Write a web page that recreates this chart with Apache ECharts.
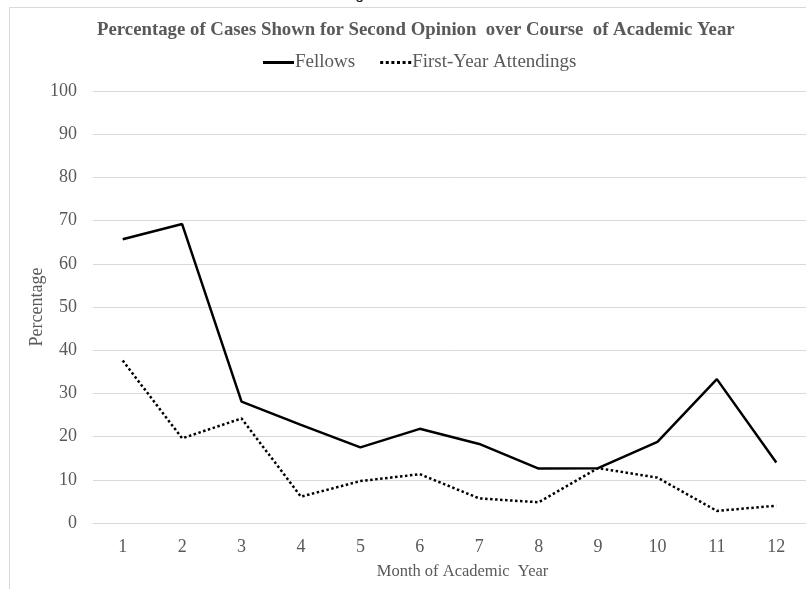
<!DOCTYPE html>
<html>
<head>
<meta charset="utf-8">
<script src="https://cdn.jsdelivr.net/npm/echarts@6/dist/echarts.min.js"></script>
<style>
html,body{margin:0;padding:0;background:#fff;}
#chart{width:806px;height:589px;}
</style>
</head>
<body>
<div id="chart"></div>
<script>
const months = ['1','2','3','4','5','6','7','8','9','10','11','12'];
const fellows = [65.7, 69.2, 28.1, 22.7, 17.5, 21.8, 18.3, 12.6, 12.7, 18.8, 33.3, 14.0];
const firstYearAttendings = [37.6, 19.6, 24.2, 6.1, 9.7, 11.3, 5.7, 4.8, 12.7, 10.5, 2.8, 4.0];
const titleText = 'Percentage of Cases Shown for Second Opinion  over Course  of Academic Year';
const seriesNames = ['Fellows', 'First-Year Attendings'];
const xAxisTitle = 'Month of Academic  Year';
const yAxisTitle = 'Percentage';

const serif = '"Liberation Serif", "Times New Roman", serif';
const grey = '#595959';
const gridGrey = '#d9d9d9';

const dottedIcon = 'path://M0,0h3v3h-3zM5.6,0h3v3h-3zM11.2,0h3v3h-3zM16.8,0h3v3h-3zM22.4,0h3v3h-3zM28,0h3v3h-3z';
const solidIcon = 'path://M0,0h31v3h-31z';

const chart = echarts.init(document.getElementById('chart'), null, {renderer: 'canvas'});
chart.setOption({
  backgroundColor: '#ffffff',
  animation: false,
  title: {
    text: titleText,
    left: 92,
    top: 16,
    textStyle: {fontFamily: serif, fontWeight: 'bold', fontSize: 18.8, color: grey}
  },
  legend: {
    top: 48,
    left: 258,
    itemWidth: 31,
    itemHeight: 3,
    itemGap: 25,
    textStyle: {fontFamily: serif, fontSize: 19, color: grey, padding: [0,0,0,-4]},
    data: [
      {name: seriesNames[0], icon: solidIcon, itemStyle: {color: '#000'}},
      {name: seriesNames[1], icon: dottedIcon, itemStyle: {color: '#000'}}
    ]
  },
  graphic: [
    {type: 'rect', silent: true, z: -10,
     shape: {x: 9.5, y: 7.5, width: 900, height: 700},
     style: {fill: null, stroke: gridGrey, lineWidth: 1}},
    {type: 'text', silent: true, left: 342, top: -13,
     style: {text: 'Figure 1', fontFamily: '"Liberation Sans", Arial, sans-serif', fontSize: 16, fill: '#222'}}
  ],
  grid: {left: 93, right: -3, top: 91, bottom: 66, containLabel: false},
  xAxis: {
    type: 'category',
    data: months,
    boundaryGap: true,
    axisTick: {show: false},
    axisLine: {lineStyle: {color: gridGrey, width: 1}},
    axisLabel: {fontFamily: serif, fontSize: 18, color: grey, margin: 15},
    name: xAxisTitle,
    nameLocation: 'middle',
    nameGap: 40,
    nameMoveOverlap: false,
    nameTextStyle: {fontFamily: serif, fontSize: 16.5, color: grey, padding: [0,0,0,26]}
  },
  yAxis: {
    type: 'value',
    min: 0, max: 100, interval: 10,
    axisLine: {show: false},
    axisTick: {show: false},
    splitLine: {lineStyle: {color: gridGrey, width: 1}},
    axisLabel: {fontFamily: serif, fontSize: 18, color: grey, margin: 16},
    name: yAxisTitle,
    nameLocation: 'middle',
    nameGap: 47,
    nameMoveOverlap: false,
    nameRotate: 90,
    nameTextStyle: {fontFamily: serif, fontSize: 18, color: grey}
  },
  series: [
    {name: seriesNames[0], type: 'line', data: fellows, symbol: 'none',
     lineStyle: {color: '#000', width: 2.5, type: 'solid'},
     itemStyle: {color: '#000'}},
    {name: seriesNames[1], type: 'line', data: firstYearAttendings, symbol: 'none',
     lineStyle: {color: '#000', width: 2.5, type: [2.5, 2.5]},
     itemStyle: {color: '#000'}}
  ]
});
</script>
</body>
</html>
